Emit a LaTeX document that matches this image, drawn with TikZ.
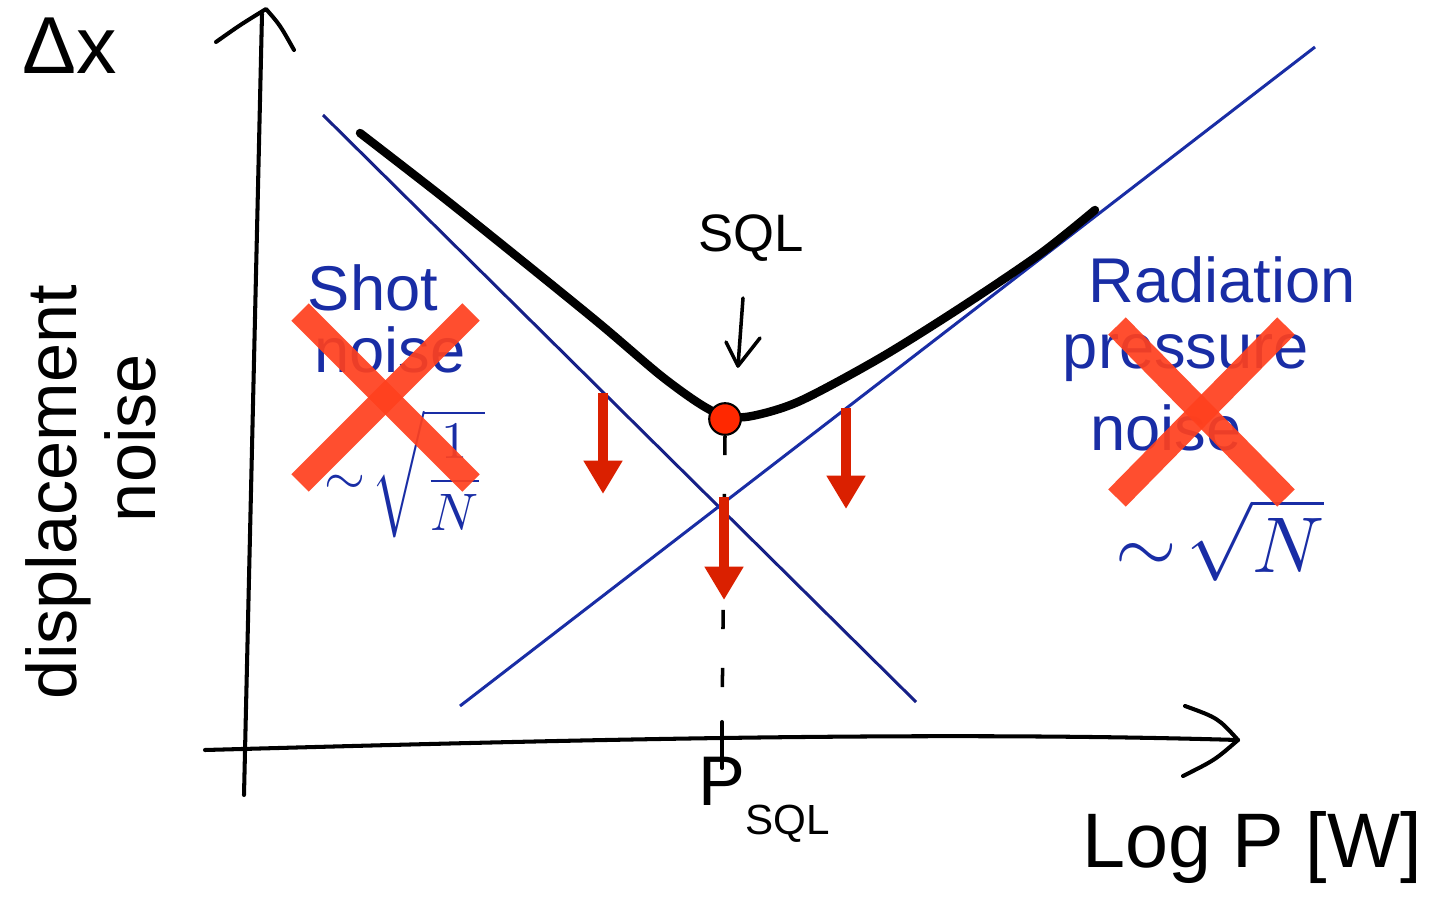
\documentclass[tikz,border=0pt]{standalone}
\usepackage{fontspec}
\setmainfont{Liberation Sans}
\usetikzlibrary{arrows.meta}
\definecolor{penblue}{RGB}{25,45,165}
\definecolor{linenavy}{RGB}{22,32,135}
\definecolor{xred}{RGB}{255,64,30}
\definecolor{arrred}{RGB}{218,32,0}
\definecolor{dotred}{RGB}{255,40,0}
\begin{document}
\begin{tikzpicture}[x=0.02cm,y=-0.02cm,
  axisline/.style={line width=2.3pt, line cap=round, line join=round},
  noiseline/.style={linenavy, line width=1.7pt},
  curveline/.style={line width=4.8pt, line cap=round, line join=round},
  blacktxt/.style={inner sep=0pt, font=\fontsize{30}{36}\selectfont},
  bluetxt/.style={penblue, inner sep=0pt, font=\fontsize{36}{42}\selectfont},
  formula/.style={penblue, inner sep=0pt},
  crossline/.style={xred, line width=14pt, opacity=0.92},
  redarrow/.style={arrred, line width=5.6pt, -{Triangle[width=21pt,length=19pt]}},
  dashline/.style={line width=2pt, dash pattern=on 11pt off 22pt}
]
\path[fill=white,use as bounding box] (0,0) rectangle (1439,918);

% axes
\draw[axisline] (244,795) -- (262,14);
\draw[axisline] (216,42) .. controls (240,25) .. (266,9) .. controls (280,25) .. (294,50);
\draw[axisline] (205,750) .. controls (500,742) and (900,730) .. (1238,740);
\draw[axisline] (1185,706) .. controls (1218,718) .. (1238,740) .. controls (1215,760) .. (1183,776);

% axis labels
\node[blacktxt, font=\fontsize{46}{52}\selectfont] (dx) at (70,46) {Δx};
\node[blacktxt, font=\fontsize{40}{46}\selectfont, rotate=90] (disp) at (58,492) {displacement};
\node[blacktxt, font=\fontsize{40}{46}\selectfont, rotate=90] (noise) at (130,438) {noise};
\node[blacktxt, font=\fontsize{44}{50}\selectfont] (logp) at (1252,848) {Log P [W]};
\node[blacktxt, font=\fontsize{40}{46}\selectfont, anchor=base west] (psql) at (698,805) {P\raisebox{-17pt}{\fontsize{24}{28}\selectfont SQL}};

% noise lines
\coordinate (s1) at (323,115);
\coordinate (s2) at (916,702);
\coordinate (r1) at (460,706);
\coordinate (r2) at (1315,47);
\draw[noiseline] (s1) -- (s2);
\draw[noiseline, color=penblue] (r1) -- (r2);

% tick on the power axis
\coordinate (tickt) at (722,722);
\coordinate (tickb) at (722,768);
\draw[axisline] (tickt) -- (tickb);

% total noise curve
\draw[curveline] plot[smooth, tension=0.5] coordinates {(360,133) (440,195) (520,259) (600,324) (660,375) (700,404) (725,416) (752,416) (800,401) (880,358) (960,308) (1040,254) (1095,210)};

% SQL point
\node[circle, fill=dotred, draw=black, line width=1.2pt, minimum size=18pt, inner sep=0pt] (sql) at (725,419) {};
\draw[dashline] (sql.south) -- (tickt);
\node[blacktxt] (sqllbl) at (751,238) {SQL};
\coordinate (sqla) at (743,298);
\coordinate (sqlb) at (738,366);
\draw[line width=2pt, line cap=round, line join=round] (sqla) -- (sqlb);
\draw[line width=2pt, line cap=round, line join=round] (726,342) -- (sqlb) -- (760,338);

% red arrows
\coordinate (a1s) at (603,393); \coordinate (a1e) at (603,494);
\coordinate (a2s) at (846,408); \coordinate (a2e) at (846,509);
\coordinate (a3s) at (724,497); \coordinate (a3e) at (724,600);
\draw[redarrow] (a1s) -- (a1e);
\draw[redarrow] (a2s) -- (a2e);
\draw[redarrow] (a3s) -- (a3e);

% shot noise text
\node[bluetxt] (shot) at (373,288) {Shot};
\node[bluetxt] (shotn) at (390,350) {noise};
\node[formula, scale=3.0] (shotf) at (405,474) {$\sim\!\sqrt{\displaystyle\frac{1}{N}}$};

% radiation pressure text
\node[bluetxt] (rad) at (1222,280) {Radiation};
\node[bluetxt] (press) at (1186,358) {pressure};
\node[bluetxt] (radn) at (1166,428) {noise};
\node[formula, scale=4.5] (radf) at (1220,540) {$\sim\!\sqrt{N}$};

% crosses
\draw[crossline] (300,312) -- (471,483);
\draw[crossline] (471,312) -- (300,483);
\draw[crossline] (1117,326) -- (1286,498);
\draw[crossline] (1286,326) -- (1117,498);
\end{tikzpicture}
\end{document}
